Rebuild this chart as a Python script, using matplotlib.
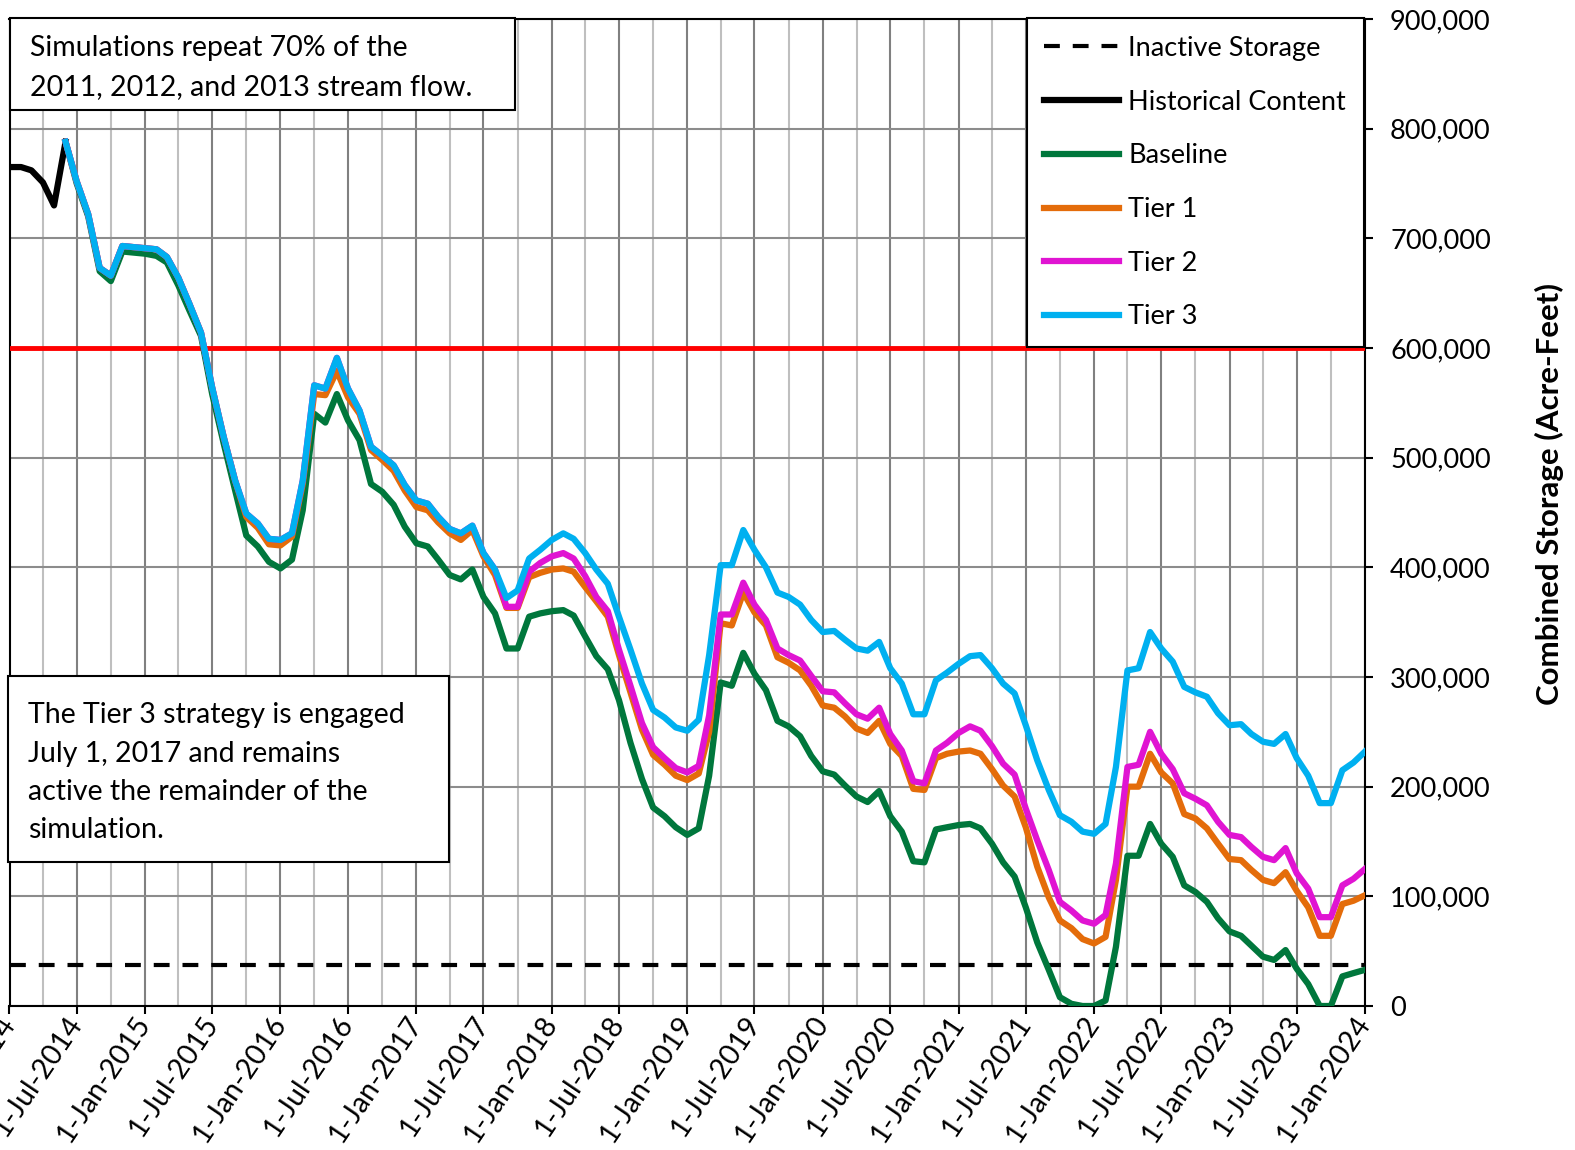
import matplotlib
matplotlib.use('Agg')
import matplotlib.pyplot as plt
import matplotlib.dates as mdates
from matplotlib.patches import Rectangle
from matplotlib.lines import Line2D
from matplotlib.ticker import FuncFormatter
import pandas as pd

plt.rcParams['font.family'] = ['Lato', 'DejaVu Sans']

# ---- data (acre-feet, thousands) ----
hist_dates = pd.date_range('2014-01-01', '2014-06-01', freq='MS')
sim_dates = pd.date_range('2014-06-01', '2024-01-01', freq='MS')

historical_k = [765, 765, 762, 751, 730, 788]

baseline_k = [788, 750, 720, 670, 661, 688, 687, 686, 684, 678,
              657, 634, 611, 558, 513, 470, 429, 419, 405, 399,
              407, 452, 540, 532, 558, 534, 516, 476, 469, 457,
              437, 422, 419, 407, 393, 389, 398, 373, 358, 326,
              326, 355, 358, 360, 361, 356, 337, 319, 307, 279,
              240, 207, 181, 173, 163, 156, 162, 210, 295, 292,
              322, 303, 288, 260, 255, 246, 228, 214, 211, 201,
              191, 186, 196, 173, 159, 132, 131, 161, 163, 165,
              166, 162, 148, 131, 118, 90, 58, 33, 8, 2,
              0, 0, 5, 54, 137, 137, 166, 148, 136, 110,
              104, 95, 80, 68, 64, 55, 45, 42, 51, 34,
              20, 0, 0, 27, 30, 33]

tier1_k = [788, 752, 722, 673, 666, 693, 692, 691, 690, 683,
           664, 640, 614, 564, 519, 479,
           446, 436, 421, 420, 428, 476, 558, 557, 579, 555,
           540, 507, 498, 488, 470, 455, 452, 441, 431, 425,
           434, 410, 393, 363, 363, 391, 395, 398, 399, 396,
           382, 369, 355, 320, 286, 252, 229, 220, 210, 206,
           212, 250, 349, 347, 377, 359, 347, 318, 313, 306,
           292, 274, 272, 264, 253, 249, 260, 239, 228, 198,
           197, 226, 230, 232, 233, 230, 216, 201, 191, 163,
           127, 99, 78, 71, 61, 57, 63, 115, 200, 200,
           230, 213, 203, 175, 171, 162, 148, 134, 133, 124,
           115, 112, 122, 105, 90, 64, 64, 93, 96, 101]

tier2_k = [788, 752, 722, 673, 666, 693, 692, 691, 690, 683,
           664, 640, 614, 564, 519, 479, 449, 440, 426, 425,
           431, 479, 566, 563, 591, 563, 543, 510, 502, 493,
           475, 461, 458, 446, 435, 431, 438, 413, 398,
           364, 364, 396, 404, 410, 413, 408, 392, 373, 360, 325,
           292, 258, 236, 226, 217, 213, 219, 265, 357, 357,
           386, 366, 352, 326, 320, 315, 301, 287, 286, 276,
           266, 262, 272, 248, 233, 205, 203, 233, 240, 249,
           255, 251, 237, 221, 211, 180, 151, 124, 95, 87,
           78, 75, 83, 130, 218, 220, 250, 230, 216, 194,
           189, 183, 168, 156, 154, 145, 136, 133, 144, 121,
           107, 81, 81, 110, 116, 125]

tier3_k = [788, 752, 722, 673, 666, 693, 692, 691, 690, 683,
           664, 640, 614, 564, 519, 479, 449, 440, 426, 425,
           431, 479, 566, 563, 591, 563, 543, 510, 502, 493,
           475, 461, 458, 446, 435, 431, 438, 413, 398, 372,
           379, 408, 416, 425, 431, 426, 413, 398, 385, 355,
           325, 294, 270, 263, 254, 251, 261, 320, 402, 402,
           434, 416, 400, 377, 373, 366, 352, 341, 342, 334,
           326, 324, 332, 308, 294, 266, 266, 297, 304, 312,
           319, 320, 308, 294, 285, 256, 224, 197, 174, 168,
           159, 157, 166, 218, 306, 308, 341, 326, 314, 291,
           286, 282, 267, 256, 257, 248, 241, 239, 248, 226,
           210, 185, 185, 215, 222, 232]

inactive_storage = 37000
threshold = 600000

tick_dates = pd.date_range('2014-01-01', '2024-01-01', freq='6MS')
tick_labels = [f"1-{d:%b-%Y}" for d in tick_dates]

def k(vals):
    return [v * 1000 for v in vals]

W, H = 1575, 1150
fig = plt.figure(figsize=(W / 100, H / 100), dpi=100)
L, R, T, B = 9.5, 1365, 19, 1006
ax = fig.add_axes([L / W, 1 - B / H, (R - L) / W, (B - T) / H])

def fx(px):
    return px / W

def fy(py):
    return 1 - py / H

LW = 4.5

# lines
ax.axhline(inactive_storage, color='black', lw=3, dashes=(3.8, 3.1), zorder=3)
ax.axhline(threshold, color='#FF0000', lw=3.5, zorder=3)
ax.plot(hist_dates, k(historical_k), color='black', lw=LW, zorder=4)
ax.plot(sim_dates, k(baseline_k), color='#00773C', lw=LW, zorder=5)
ax.plot(sim_dates, k(tier1_k), color='#E46C0A', lw=LW, zorder=6)
ax.plot(sim_dates, k(tier2_k), color='#E014D2', lw=LW, zorder=7)
ax.plot(sim_dates, k(tier3_k), color='#00B0F0', lw=LW, zorder=8)

# axes
ax.set_xlim(pd.Timestamp('2014-01-01'), pd.Timestamp('2024-01-01'))
ax.set_ylim(0, 900000)
ax.set_xticks(tick_dates)
ax.set_xticklabels(tick_labels)
ax.xaxis.set_minor_locator(mdates.MonthLocator(bymonth=[4, 10]))
ax.set_yticks(range(0, 900001, 100000))
ax.yaxis.set_major_formatter(FuncFormatter(lambda v, p: f'{v:,.0f}'))
ax.yaxis.tick_right()

ax.grid(which='major', axis='x', color='#808080', lw=1.5, zorder=0)
ax.grid(which='minor', axis='x', color='#bfbfbf', lw=1.5, zorder=0)
ax.grid(which='major', axis='y', color='#8c8c8c', lw=1.5, zorder=0)
ax.set_axisbelow(True)

ax.tick_params(axis='x', which='major', direction='out', length=6, width=1.5,
               labelsize=20.5, pad=3)
ax.tick_params(axis='x', which='minor', length=0)
ax.tick_params(axis='y', which='major', direction='out', length=6, width=1.5,
               labelsize=19.5, pad=12, right=True, left=False)
for lab in ax.get_xticklabels():
    lab.set_rotation(56)
    lab.set_ha('right')
    lab.set_va('center')
    lab.set_rotation_mode('anchor')
for s in ax.spines.values():
    s.set_linewidth(1.5)
    s.set_color('black')

fig.text(fx(1549), fy(494), 'Combined Storage (Acre-Feet)', rotation=90,
         ha='center', va='center', fontsize=22.5, fontweight='bold')

# note boxes
def note_box(x0, y0, x1, y1, lines, tx, baselines):
    fig.patches.append(Rectangle((fx(x0), fy(y1)), fx(x1) - fx(x0), fy(y0) - fy(y1),
                                 transform=fig.transFigure, facecolor='white',
                                 edgecolor='black', lw=1.5, zorder=10))
    for s, by in zip(lines, baselines):
        fig.text(fx(tx), fy(by), s, ha='left', va='baseline',
                 fontsize=20.5, zorder=11)

note_box(10, 18, 515, 110,
         ['Simulations repeat 70% of the', '2011, 2012, and 2013 stream flow.'],
         30, [56, 95])
note_box(8, 676, 449, 862,
         ['The Tier 3 strategy is engaged', 'July 1, 2017 and remains',
          'active the remainder of the', 'simulation.'],
         28, [723, 762, 800, 838])

# legend
handles = [
    Line2D([], [], color='black', lw=3, dashes=(3.8, 3.1)),
    Line2D([], [], color='black', lw=LW),
    Line2D([], [], color='#00773C', lw=LW),
    Line2D([], [], color='#E46C0A', lw=LW),
    Line2D([], [], color='#E014D2', lw=LW),
    Line2D([], [], color='#00B0F0', lw=LW),
]
labels = ['Inactive Storage', 'Historical Content', 'Baseline', 'Tier 1', 'Tier 2', 'Tier 3']
leg = ax.legend(handles, labels, loc='upper right',
                bbox_to_anchor=(fx(1364), fy(18)), bbox_transform=fig.transFigure,
                fontsize=19.5, handlelength=2.75, handletextpad=0.35,
                labelspacing=1.06, borderpad=0.66, borderaxespad=0,
                fancybox=False, framealpha=1, edgecolor='black')
leg.get_frame().set_linewidth(1.5)
leg.set_zorder(12)

fig.savefig('out.png', dpi=100, facecolor='white')
